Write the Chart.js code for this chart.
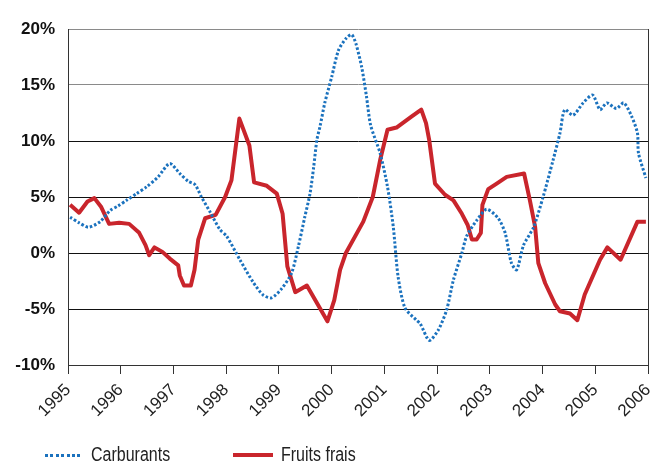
<!DOCTYPE html>
<html>
<head>
<meta charset="utf-8">
<script src="https://cdn.jsdelivr.net/npm/chart.js@4/dist/chart.umd.min.js"></script>
<style>
  html, body { margin: 0; padding: 0; background: #fff; }
  #wrap { position: relative; width: 657px; height: 463px; }
  canvas { position: absolute; left: 0; top: 0; }
  .lg { position: absolute; font-family: 'Liberation Sans', sans-serif; font-size: 20px; color: #222; line-height: 20px; transform: scaleX(0.8); transform-origin: left top; white-space: nowrap; }
  .sw { position: absolute; }
</style>
</head>
<body>
<div id="wrap">
  <canvas id="c" width="657" height="463"></canvas>
  <div class="sw" id="swCarb" style="left:45px; top:454px; width:38px; height:3px;"></div>
  <div class="lg" id="lgCarb" style="left:91px; top:444px;">Carburants</div>
  <div class="sw" id="swFruit" style="left:233px; top:453px; width:40px; height:4px;"></div>
  <div class="lg" id="lgFruit" style="left:281px; top:444px;">Fruits frais</div>
</div>
<script>
// Annual change, in %
const seriesNames = ['Carburants', 'Fruits frais'];
const carbColor = '#1b72be';
const fruitColor = '#c9252c';

const carbYears = [1995.04, 1995.21, 1995.39, 1995.61, 1995.80, 1995.95, 1996.11, 1996.30, 1996.49, 1996.71,
  1996.93, 1997.12, 1997.28, 1997.41, 1997.53, 1997.69, 1997.88, 1998.01, 1998.26, 1998.51,
  1998.70, 1998.86, 1999.05, 1999.24, 1999.37, 1999.49, 1999.59, 1999.66, 1999.72, 1999.78,
  1999.87, 2000.00, 2000.13, 2000.28, 2000.38, 2000.46, 2000.57, 2000.66, 2000.74, 2000.92,
  2001.06, 2001.17, 2001.26, 2001.39, 2001.61, 2001.68, 2001.85, 2002.02, 2002.18, 2002.31,
  2002.47, 2002.56, 2002.75, 2002.94, 2003.16, 2003.29, 2003.41, 2003.51, 2003.64, 2003.83,
  2004.01, 2004.20, 2004.33, 2004.42, 2004.58, 2004.77, 2004.95, 2005.09, 2005.22, 2005.40,
  2005.54, 2005.69, 2005.80, 2005.82, 2005.96];
const carbValues = [3.2, 2.7, 2.3, 2.8, 3.8, 4.2, 4.7, 5.3, 5.9, 6.8,
  8.0, 7.1, 6.4, 6.1, 5.0, 3.7, 2.1, 1.5, -0.6, -2.6,
  -3.75, -4.0, -3.2, -1.8, 0.6, 3.2, 5.3, 7.7, 10.1, 11.3,
  13.4, 15.7, 18.1, 19.2, 19.5, 18.7, 16.6, 14.0, 11.4, 8.9,
  5.9, 2.3, -2.1, -4.9, -6.0, -6.3, -7.8, -6.9, -5.1, -2.4,
  0.0, 1.5, 2.9, 3.9, 3.1, 1.8, -0.9, -1.5, 0.7, 2.3,
  5.0, 8.3, 10.7, 12.8, 12.3, 13.4, 14.1, 12.8, 13.4, 12.9,
  13.4, 12.2, 10.7, 8.9, 6.7];

const fruitYears = [1995.04, 1995.21, 1995.37, 1995.50, 1995.63, 1995.78, 1995.97, 1996.16, 1996.35, 1996.47,
  1996.54, 1996.64, 1996.79, 1996.93, 1997.09, 1997.12, 1997.20, 1997.33, 1997.40, 1997.47,
  1997.60, 1997.80, 1997.98, 1998.10, 1998.25, 1998.44, 1998.53, 1998.77, 1998.96, 1999.07,
  1999.16, 1999.31, 1999.53, 1999.92, 2000.05, 2000.16, 2000.27, 2000.60, 2000.78, 2000.92,
  2001.06, 2001.23, 2001.52, 2001.70, 2001.79, 2001.85, 2001.96, 2002.15, 2002.31, 2002.47,
  2002.58, 2002.66, 2002.75, 2002.83, 2002.86, 2002.97, 2003.13, 2003.32, 2003.65, 2003.76,
  2003.86, 2003.92, 2004.05, 2004.24, 2004.33, 2004.52, 2004.66, 2004.80, 2005.09, 2005.23,
  2005.48, 2005.80, 2005.96];
const fruitValues = [4.3, 3.6, 4.6, 4.9, 4.1, 2.6, 2.7, 2.6, 1.8, 0.7,
  -0.2, 0.5, 0.1, -0.5, -1.1, -2.0, -2.9, -2.9, -1.5, 1.2,
  3.1, 3.4, 5.0, 6.5, 12.0, 9.6, 6.3, 6.0, 5.3, 3.5,
  -1.2, -3.5, -2.9, -6.1, -4.2, -1.5, 0.0, 2.8, 5.0, 8.3,
  11.0, 11.2, 12.2, 12.8, 11.6, 10.1, 6.2, 5.2, 4.7, 3.5,
  2.5, 1.2, 1.2, 1.8, 4.3, 5.7, 6.2, 6.8, 7.1, 4.7,
  2.3, -0.9, -2.7, -4.6, -5.2, -5.4, -6.0, -3.7, -0.6, 0.5,
  -0.6, 2.8, 2.8];

const yearTicks = [1995, 1996, 1997, 1998, 1999, 2000, 2001, 2002, 2003, 2004, 2005, 2006];
const pctTicks = [-10, -5, 0, 5, 10, 15, 20];

const pairs = (xs, ys) => xs.map((x, i) => ({ x: x, y: ys[i] }));

// legend swatches
document.getElementById('swCarb').style.background =
  'repeating-linear-gradient(to right, ' + carbColor + ' 0 3px, transparent 3px 5.4px)';
document.getElementById('swFruit').style.background = fruitColor;

// right-hand frame line of the plot area
const frameRight = {
  id: 'frameRight',
  afterDatasetsDraw(chart) {
    const { ctx, chartArea } = chart;
    const x = Math.round(chartArea.right) + 0.5;
    ctx.save();
    ctx.strokeStyle = '#333';
    ctx.lineWidth = 1;
    ctx.beginPath();
    ctx.moveTo(x, chartArea.top);
    ctx.lineTo(x, chartArea.bottom);
    ctx.stroke();
    ctx.restore();
  }
};

new Chart(document.getElementById('c'), {
  type: 'line',
  data: {
    datasets: [
      {
        label: seriesNames[0],
        data: pairs(carbYears, carbValues),
        borderColor: carbColor,
        borderWidth: 3,
        borderDash: [2.5, 2],
        borderCapStyle: 'butt',
        pointRadius: 0,
        tension: 0.25,
        fill: false
      },
      {
        label: seriesNames[1],
        data: pairs(fruitYears, fruitValues),
        borderColor: fruitColor,
        borderWidth: 4,
        borderJoinStyle: 'round',
        pointRadius: 0,
        tension: 0,
        fill: false
      }
    ]
  },
  options: {
    responsive: false,
    animation: false,
    layout: { padding: { top: 29, right: 9, bottom: 40, left: 0 } },
    plugins: { legend: { display: false }, tooltip: { enabled: false } },
    scales: {
      x: {
        type: 'linear',
        min: yearTicks[0],
        max: yearTicks[yearTicks.length - 1],
        afterBuildTicks(scale) { scale.ticks = yearTicks.map(v => ({ value: v })); },
        afterFit(scale) { scale.height = 58; scale.paddingLeft = 0; scale.paddingRight = 0; },
        grid: { drawOnChartArea: false, color: '#333', tickLength: 9, tickColor: '#333' },
        border: { color: '#333', width: 1 },
        ticks: {
          autoSkip: false,
          maxRotation: 45,
          minRotation: 45,
          padding: 6,
          color: '#222',
          font: { family: "'Liberation Sans', sans-serif", size: 17 },
          callback: v => String(v)
        }
      },
      y: {
        min: pctTicks[0],
        max: pctTicks[pctTicks.length - 1],
        afterBuildTicks(scale) { scale.ticks = pctTicks.map(v => ({ value: v })); },
        afterFit(scale) { scale.width = 68; },
        grid: {
          drawTicks: false,
          color: ctx => (ctx.tick && ctx.tick.value >= 15 ? '#8a8a8a' : '#111'),
          lineWidth: 1
        },
        border: { color: '#333', width: 1 },
        ticks: {
          padding: 13,
          color: '#111',
          font: { family: "'Liberation Sans', Arial, sans-serif", size: 17, weight: 'bold' },
          callback: v => v + '%'
        }
      }
    }
  },
  plugins: [frameRight]
});
</script>
</body>
</html>
